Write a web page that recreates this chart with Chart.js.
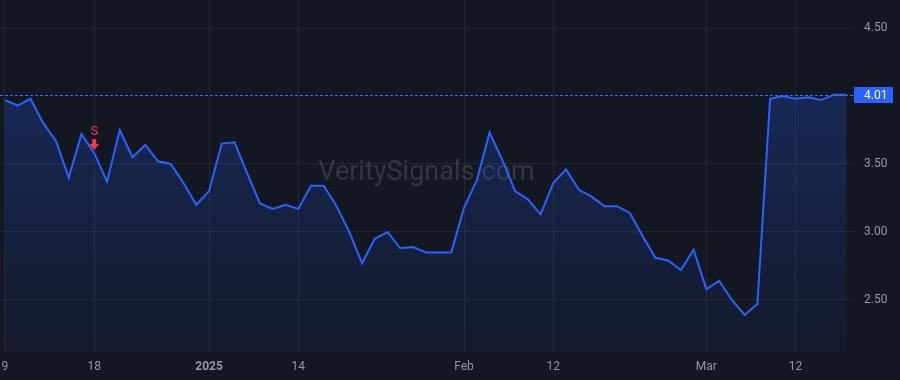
<!DOCTYPE html>
<html>
<head>
<meta charset="utf-8">
<script src="https://cdn.jsdelivr.net/npm/chart.js@4.4.1/dist/chart.umd.min.js"></script>
<style>
  html, body { margin: 0; padding: 0; background: #131722; }
  canvas { display: block; }
</style>
</head>
<body>
<canvas id="myChart" width="900" height="380"></canvas>
<script>
// trading days shown on the chart
const days = [
  'Dec 9','Dec 10','Dec 11','Dec 12','Dec 13','Dec 16','Dec 17','Dec 18','Dec 19','Dec 20',
  'Dec 23','Dec 24','Dec 26','Dec 27','Dec 30','Dec 31',
  'Jan 2','Jan 3','Jan 6','Jan 7','Jan 8','Jan 10','Jan 13','Jan 14','Jan 15','Jan 16','Jan 17',
  'Jan 21','Jan 22','Jan 23','Jan 24','Jan 27','Jan 28','Jan 29','Jan 30','Jan 31',
  'Feb 3','Feb 4','Feb 5','Feb 6','Feb 7','Feb 10','Feb 11','Feb 12','Feb 13','Feb 14',
  'Feb 18','Feb 19','Feb 20','Feb 21','Feb 24','Feb 25','Feb 26','Feb 27','Feb 28',
  'Mar 3','Mar 4','Mar 5','Mar 6','Mar 7','Mar 10','Mar 11','Mar 12','Mar 13','Mar 14','Mar 17','Mar 18'
];

const values = [
  3.97, 3.93, 3.98, 3.80, 3.67, 3.40, 3.72, 3.58, 3.37, 3.75,
  3.55, 3.64, 3.52, 3.50, 3.36, 3.20,
  3.30, 3.65, 3.66, 3.43, 3.21, 3.17, 3.20, 3.17, 3.34, 3.34, 3.19,
  3.00, 2.77, 2.95, 3.00, 2.88, 2.89, 2.85, 2.85, 2.85,
  3.18, 3.38, 3.73, 3.53, 3.30, 3.24, 3.13, 3.36, 3.46, 3.31,
  3.26, 3.19, 3.19, 3.14, 2.97, 2.81, 2.79, 2.72, 2.87,
  2.58, 2.64, 2.50, 2.39, 2.47, 3.98, 4.00, 3.98, 3.99, 3.97, 4.01, 4.01
];

// x axis labels (index into days)
const tickDays = [0, 7, 16, 23, 36, 43, 55, 62];
const tickLabels = ['9', '18', '2025', '14', 'Feb', '12', 'Mar', '12'];

const priceTicks = [2.5, 3.0, 3.5, 4.5];

// sell signal
const signalDay = 7;
const signalText = 'S';

const lastValue = values[values.length - 1];

const blue = '#2962FF';
const textColor = '#9598A1';
const gridColor = '#232632';
const fontFamily = 'Roboto, "Noto Sans", sans-serif';

const watermark = {
  id: 'watermark',
  beforeDatasetsDraw(chart) {
    const { ctx, chartArea } = chart;
    ctx.save();
    ctx.font = '27px ' + fontFamily;
    ctx.fillStyle = 'rgba(255,255,255,0.13)';
    ctx.textAlign = 'center';
    ctx.textBaseline = 'middle';
    ctx.fillText('VeritySignals.com', (chartArea.left + chartArea.right) / 2, 173);
    ctx.restore();
  }
};

const lastPrice = {
  id: 'lastPrice',
  afterDatasetsDraw(chart) {
    const { ctx, chartArea, scales } = chart;
    const y = Math.round(scales.y.getPixelForValue(lastValue));
    ctx.save();
    // dotted price line
    ctx.fillStyle = '#3B6FFF';
    for (let x = chartArea.left; x < chartArea.right; x += 5) {
      ctx.fillRect(x, y, 3, 1);
    }
    // label box on the price axis
    ctx.fillStyle = blue;
    ctx.fillRect(chartArea.right + 1, y - 8, 39, 16);
    ctx.fillStyle = '#ffffff';
    ctx.font = '12px ' + fontFamily;
    ctx.textAlign = 'left';
    ctx.textBaseline = 'middle';
    ctx.fillText(lastValue.toFixed(2), chartArea.right + 11, y + 1);
    ctx.restore();
  }
};

const signal = {
  id: 'signal',
  afterDatasetsDraw(chart) {
    const { ctx, scales } = chart;
    const x = scales.x.getPixelForValue(signalDay);
    const y = scales.y.getPixelForValue(values[signalDay]);
    const red = '#F23645';
    ctx.save();
    ctx.fillStyle = red;
    // arrow pointing down
    const tip = y - 3;
    ctx.fillRect(x - 2, tip - 11, 4, 6);
    ctx.beginPath();
    ctx.moveTo(x - 5, tip - 6);
    ctx.lineTo(x + 5, tip - 6);
    ctx.lineTo(x, tip);
    ctx.closePath();
    ctx.fill();
    ctx.font = '13px ' + fontFamily;
    ctx.textAlign = 'center';
    ctx.textBaseline = 'middle';
    ctx.fillText(signalText, x, tip - 18);
    ctx.restore();
  }
};

const canvas = document.getElementById('myChart');

new Chart(canvas, {
  type: 'line',
  data: {
    labels: days,
    datasets: [{
      label: 'Price',
      data: values.map((v, i) => ({ x: i, y: v })),
      borderColor: blue,
      borderWidth: 2,
      pointRadius: 0,
      tension: 0,
      fill: 'start',
      backgroundColor(context) {
        const area = context.chart.chartArea;
        if (!area) return 'rgba(41,98,255,0.15)';
        const g = context.chart.ctx.createLinearGradient(0, area.top, 0, area.bottom);
        g.addColorStop(0, 'rgba(41,98,255,0.3)');
        g.addColorStop(1, 'rgba(41,98,255,0.04)');
        return g;
      }
    }]
  },
  options: {
    responsive: false,
    animation: false,
    devicePixelRatio: 1,
    layout: { padding: 0 },
    plugins: {
      legend: { display: false },
      tooltip: { enabled: false }
    },
    scales: {
      x: {
        type: 'linear',
        min: -0.39,
        max: 66.5,
        border: { display: false },
        grid: { color: gridColor, drawTicks: false },
        afterBuildTicks(scale) {
          scale.ticks = tickDays.map(v => ({ value: v }));
        },
        afterFit(scale) {
          scale.height = 28;
          scale.paddingLeft = 0;
          scale.paddingRight = 0;
        },
        ticks: {
          color: textColor,
          padding: 8,
          maxRotation: 0,
          autoSkip: false,
          font(ctx) {
            const bold = ctx.tick && ctx.tick.value === 16;
            return { family: fontFamily, size: 12, weight: bold ? 'bold' : 'normal' };
          },
          callback(value) {
            const k = tickDays.indexOf(value);
            return k >= 0 ? tickLabels[k] : '';
          }
        }
      },
      y: {
        position: 'right',
        min: 2.1176,
        max: 4.7059,
        border: { display: false },
        grid: { color: gridColor, drawTicks: false },
        afterBuildTicks(scale) {
          scale.ticks = priceTicks.map(v => ({ value: v }));
        },
        afterFit(scale) {
          scale.width = 47;
          scale.paddingTop = 0;
          scale.paddingBottom = 0;
        },
        ticks: {
          color: textColor,
          padding: 11,
          font: { family: fontFamily, size: 12 },
          callback(value) {
            return value.toFixed(2);
          }
        }
      }
    }
  },
  plugins: [watermark, lastPrice, signal]
});
</script>
</body>
</html>
